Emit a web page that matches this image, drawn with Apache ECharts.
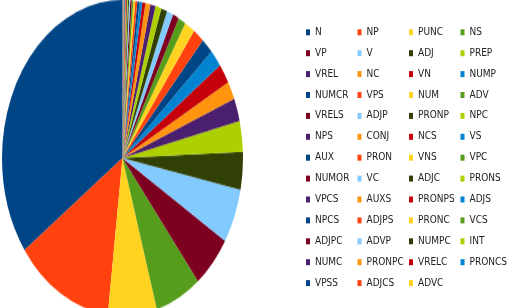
<!DOCTYPE html>
<html><head><meta charset="utf-8">
<script src="https://cdn.jsdelivr.net/npm/echarts@6/dist/echarts.min.js"></script>
<style>
html,body{margin:0;padding:0;width:516px;height:308px;overflow:hidden;background:#fff;}
#pie{position:absolute;left:1.5px;top:0;width:241px;height:241px;transform:scaleY(1.311);transform-origin:0 0;}
#leg{position:absolute;left:0;top:0;width:516px;height:308px;}
</style></head>
<body><div id="pie"></div><div id="leg"></div>
<script>
const categories = ["N","NP","PUNC","NS","VP","V","ADJ","PREP","VREL","NC","VN","NUMP",
  "NUMCR","VPS","NUM","ADV","VRELS","ADJP","PRONP","NPC","NPS","CONJ","NCS","VS",
  "AUX","PRON","VNS","VPC","NUMOR","VC","ADJC","PRONS","VPCS","AUXS","PRONPS","ADJS",
  "NPCS","ADJPS","PRONC","VCS","ADJPC","ADVP","NUMPC","INT","NUMC","PRONPC","VRELC","PRONCS",
  "VPSS","ADJCS","ADVC"];
const values = [125.6,47.4,23.6,22.2,19.6,20.0,13.9,11.2,8.5,6.7,7.3,6.4,
  5.8,5.4,5.0,3.6,3.0,3.1,2.9,2.9,2.5,2.4,1.5,1.3,
  1.1,1.0,0.9,0.8,0.7,0.6,0.5,0.45,0.4,0.35,0.3,0.25,
  0.15,0.12,0.1,0.08,0.07,0.06,0.05,0.04,0.04,0.03,0.03,0.02,
  0.02,0.02,0.02];
const palette = ["#004586","#ff420e","#ffd320","#579d1c","#7e0021","#83caff",
  "#314004","#aecf00","#4b1f6f","#ff950e","#c5000b","#0084d1"];
const data = categories.map((c,i)=>({name:c,value:values[i]}));

const pie = echarts.init(document.getElementById('pie'), null, {renderer:'canvas'});
pie.setOption({
  animation:false,
  color:palette,
  series:[{type:'pie',center:['50%','50%'],radius:['0%','100%'],startAngle:90,clockwise:false,
    label:{show:false},labelLine:{show:false},itemStyle:{borderWidth:0},
    emphasis:{disabled:true},data:data}]
});

const leg = echarts.init(document.getElementById('leg'), null, {renderer:'canvas'});
leg.setOption({
  animation:false,
  color:palette,
  legend:{orient:'horizontal',left:306,top:22.85,width:206,padding:0,itemGap:2,
    itemWidth:4,itemHeight:6,icon:'rect',selectedMode:false,
    textStyle:{fontFamily:'Liberation Sans Narrow, DejaVu Sans Condensed, sans-serif',fontSize:10,
      color:'#222',width:40.5,lineHeight:18.9,overflow:'none'},
    data:categories},
  series:[{type:'pie',center:[-1000,-1000],radius:1,silent:true,label:{show:false},
    labelLine:{show:false},data:data}]
});
</script></body></html>
